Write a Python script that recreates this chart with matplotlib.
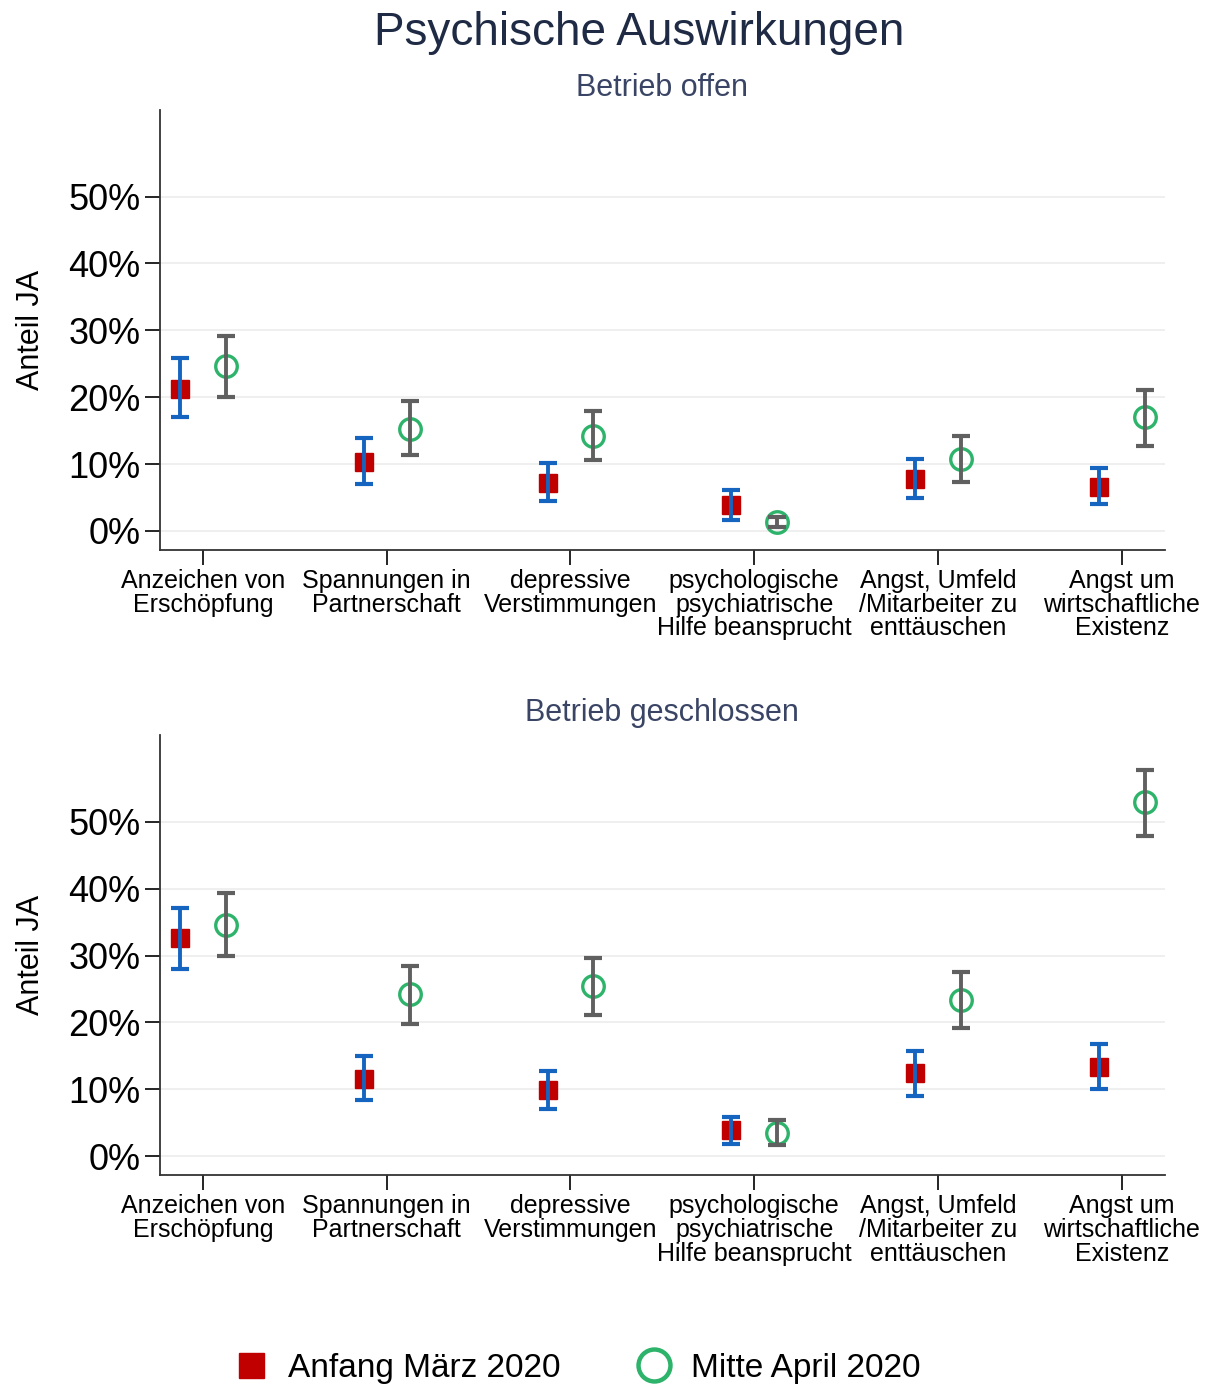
import matplotlib.pyplot as plt
from matplotlib.lines import Line2D
from matplotlib.ticker import FuncFormatter

plt.rcParams['font.family'] = ['Liberation Sans', 'DejaVu Sans']

kategorien = ["Anzeichen von\nErschöpfung", "Spannungen in\nPartnerschaft",
              "depressive\nVerstimmungen",
              "psychologische\npsychiatrische\nHilfe beansprucht",
              "Angst, Umfeld\n/Mitarbeiter zu\nenttäuschen",
              "Angst um\nwirtschaftliche\nExistenz"]

# Betrieb offen (Anteil JA in %, mit 95%-Intervall)
offen_maerz = [21.2, 10.3, 7.1, 3.9, 7.7, 6.6]
offen_maerz_lo = [17.0, 7.0, 4.5, 1.7, 4.9, 4.0]
offen_maerz_hi = [25.8, 13.9, 10.1, 6.1, 10.7, 9.4]
offen_april = [24.6, 15.3, 14.2, 1.4, 10.8, 17.0]
offen_april_lo = [20.0, 11.4, 10.6, 0.6, 7.3, 12.7]
offen_april_hi = [29.2, 19.4, 17.9, 2.1, 14.2, 21.1]

# Betrieb geschlossen
geschl_maerz = [32.6, 11.6, 9.9, 3.9, 12.4, 13.3]
geschl_maerz_lo = [28.0, 8.4, 7.0, 1.9, 9.0, 10.0]
geschl_maerz_hi = [37.1, 15.0, 12.7, 5.9, 15.7, 16.8]
geschl_april = [34.6, 24.2, 25.5, 3.4, 23.4, 52.9]
geschl_april_lo = [30.0, 19.7, 21.1, 1.7, 19.1, 47.9]
geschl_april_hi = [39.4, 28.4, 29.7, 5.4, 27.5, 57.8]

ROT = '#c00000'
BLAU = '#1565c0'
GRUEN = '#2db36a'
GRAU = '#606060'
TEXT = '#1f2a44'


def panel(ax, titel, maerz, m_lo, m_hi, april, a_lo, a_hi):
    x = list(range(len(kategorien)))
    xm = [i - 0.125 for i in x]
    xa = [i + 0.125 for i in x]
    ax.plot(xm, maerz, 's', color=ROT, markersize=12.5, zorder=3)
    ax.errorbar(xm, maerz, yerr=[[m - l for m, l in zip(maerz, m_lo)],
                                 [h - m for m, h in zip(maerz, m_hi)]],
                fmt='none', ecolor=BLAU, elinewidth=2.8, capsize=6.5,
                capthick=3, zorder=4)
    ax.plot(xa, april, 'o', markerfacecolor='none', markeredgecolor=GRUEN,
            markersize=15.5, markeredgewidth=2.4, zorder=3)
    ax.errorbar(xa, april, yerr=[[a - l for a, l in zip(april, a_lo)],
                                 [h - a for a, h in zip(april, a_hi)]],
                fmt='none', ecolor=GRAU, elinewidth=2.8, capsize=6.5,
                capthick=3, zorder=4)

    ax.set_xlim(-0.234, 5.234)
    ax.set_ylim(-2.8, 63)
    ax.set_yticks([0, 10, 20, 30, 40, 50])
    ax.yaxis.set_major_formatter(FuncFormatter(lambda v, p: f"{v:.0f}%"))
    ax.set_xticks(x)
    ax.set_xticklabels(kategorien, fontsize=18, linespacing=0.98)
    ax.tick_params(axis='y', labelsize=26, length=11, width=1.2, pad=3)
    ax.tick_params(axis='x', length=11, width=1.2, pad=3)
    ax.grid(axis='y', color='#ececec', linewidth=1.2)
    ax.set_axisbelow(True)
    for s in ['top', 'right']:
        ax.spines[s].set_visible(False)
    for s in ['left', 'bottom']:
        ax.spines[s].set_color('#333333')
        ax.spines[s].set_linewidth(1.3)
    ax.set_ylabel("Anteil JA", fontsize=22, labelpad=16)
    ax.set_title(titel, fontsize=22, color='#3a4565', pad=10)


fig = plt.figure(figsize=(12.12, 13.88), dpi=100)
ax1 = fig.add_axes([0.132, 0.604, 0.829, 0.317])
ax2 = fig.add_axes([0.132, 0.1535, 0.829, 0.317])

panel(ax1, "Betrieb offen", offen_maerz, offen_maerz_lo, offen_maerz_hi,
      offen_april, offen_april_lo, offen_april_hi)
panel(ax2, "Betrieb geschlossen", geschl_maerz, geschl_maerz_lo,
      geschl_maerz_hi, geschl_april, geschl_april_lo, geschl_april_hi)

fig.suptitle("Psychische Auswirkungen", fontsize=33, color=TEXT, y=0.992,
             x=0.527)

handles = [Line2D([], [], marker='s', color=ROT, linestyle='none',
                  markersize=18),
           Line2D([], [], marker='o', linestyle='none', markerfacecolor='none',
                  markeredgecolor=GRUEN, markersize=23, markeredgewidth=3.2)]
fig.legend(handles, ["Anfang März 2020", "Mitte April 2020"],
           loc='center', bbox_to_anchor=(0.475, 0.014), ncol=2, frameon=False,
           fontsize=24, handletextpad=0.5, columnspacing=2.2,
           handlelength=1.2)

fig.savefig("out.png", dpi=100)
